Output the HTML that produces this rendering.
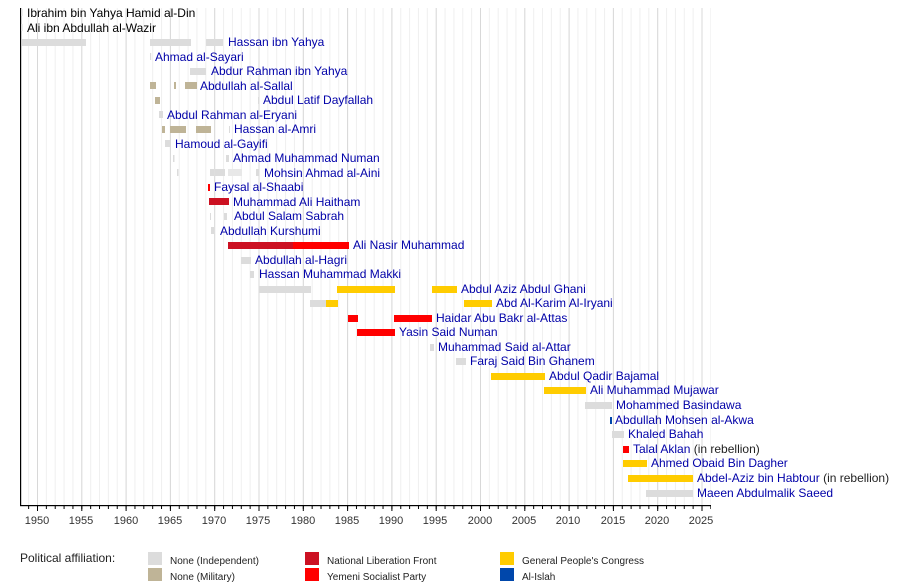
<!DOCTYPE html>
<html><head><meta charset="utf-8"><style>
html,body{margin:0;padding:0;background:#fff;}
svg{display:block;font-family:"Liberation Sans",sans-serif;}
.n{fill:#0000a8;font-size:12px;}
.k{fill:#000;font-size:12px;}
.r{fill:#222;font-size:12px;}
.t{fill:#333;font-size:11px;text-anchor:middle;}
.l{fill:#222;font-size:10px;}
</style></head><body>
<svg width="900" height="585" viewBox="0 0 900 585">
<defs>
<pattern id="g1" x="37" y="0" width="8.86" height="600" patternUnits="userSpaceOnUse"><rect x="0" y="0" width="1" height="600" fill="#efefef"/></pattern>
<pattern id="g5" x="37" y="0" width="44.3" height="600" patternUnits="userSpaceOnUse"><rect x="0" y="0" width="1" height="600" fill="#d8d8d8"/></pattern>
<pattern id="t1" x="37" y="0" width="8.86" height="600" patternUnits="userSpaceOnUse"><rect x="0" y="0" width="1" height="600" fill="#000"/></pattern>
<pattern id="t5" x="37" y="0" width="44.3" height="600" patternUnits="userSpaceOnUse"><rect x="0" y="0" width="1" height="600" fill="#000"/></pattern>
</defs>
<rect x="22" y="8" width="689" height="497" fill="url(#g1)"/>
<rect x="22" y="8" width="689" height="497" fill="url(#g5)"/>
<rect x="22" y="506" width="689" height="3" fill="url(#t1)"/>
<rect x="22" y="506" width="689" height="5" fill="url(#t5)"/>
<rect x="20" y="8" width="1.2" height="498" fill="#000"/>
<rect x="20" y="505" width="691" height="1.2" fill="#000"/>
<g class="t">
<text x="37" y="524">1950</text><text x="81" y="524">1955</text><text x="126" y="524">1960</text><text x="170" y="524">1965</text><text x="214" y="524">1970</text><text x="258" y="524">1975</text><text x="303" y="524">1980</text><text x="347" y="524">1985</text><text x="391" y="524">1990</text><text x="435" y="524">1995</text><text x="480" y="524">2000</text><text x="524" y="524">2005</text><text x="568" y="524">2010</text><text x="613" y="524">2015</text><text x="657" y="524">2020</text><text x="701" y="524">2025</text>
</g>
<!-- bars: colors -->
<g>
<!-- row1 y=13 -->
<rect x="21" y="9" width="1.5" height="7" fill="#dcdcdc"/>
<rect x="21" y="24" width="1.5" height="7" fill="#dcdcdc"/>
<!-- Hassan ibn Yahya y=42 -->
<rect x="22" y="39" width="64" height="7" fill="#dcdcdc"/><rect x="150" y="39" width="41" height="7" fill="#dcdcdc"/><rect x="206" y="39" width="17" height="7" fill="#dcdcdc"/>
<rect x="150" y="53" width="1.2" height="7" fill="#dcdcdc"/>
<rect x="190" y="68" width="16" height="7" fill="#dcdcdc"/>
<rect x="150" y="82" width="6" height="7" fill="#bfb497"/><rect x="174" y="82" width="2" height="7" fill="#bfb497"/><rect x="185" y="82" width="12" height="7" fill="#bfb497"/>
<rect x="155" y="97" width="5" height="7" fill="#bfb497"/><rect x="258" y="97" width="1" height="7" fill="#dcdcdc"/>
<rect x="159" y="111" width="4" height="7" fill="#dcdcdc"/>
<rect x="162" y="126" width="3" height="7" fill="#bfb497"/><rect x="170" y="126" width="16" height="7" fill="#bfb497"/><rect x="196" y="126" width="15" height="7" fill="#bfb497"/><rect x="229" y="126" width="1" height="7" fill="#dcdcdc"/>
<rect x="165" y="140" width="5" height="7" fill="#dcdcdc"/>
<rect x="173" y="155" width="1.5" height="7" fill="#dcdcdc"/><rect x="226" y="155" width="3" height="7" fill="#dcdcdc"/>
<rect x="177" y="169" width="1.5" height="7" fill="#dcdcdc"/><rect x="210" y="169" width="4" height="7" fill="#dcdcdc"/><rect x="215" y="169" width="10" height="7" fill="#dcdcdc"/><rect x="228" y="169" width="14" height="7" fill="#e8e8e8"/><rect x="256" y="169" width="3" height="7" fill="#dcdcdc"/>
<rect x="208" y="184" width="2" height="7" fill="#ff0000"/>
<rect x="209" y="198" width="20" height="7" fill="#cc1122"/>
<rect x="210" y="213" width="1" height="7" fill="#dcdcdc"/><rect x="224" y="213" width="3" height="7" fill="#dcdcdc"/>
<rect x="211" y="227" width="3" height="7" fill="#dcdcdc"/>
<rect x="228" y="242" width="65" height="7" fill="#cc1122"/><rect x="293" y="242" width="56" height="7" fill="#ff0000"/>
<rect x="241" y="257" width="10" height="7" fill="#dcdcdc"/>
<rect x="250" y="271" width="4" height="7" fill="#dcdcdc"/>
<rect x="259" y="286" width="52" height="7" fill="#dcdcdc"/><rect x="337" y="286" width="58" height="7" fill="#ffcc00"/><rect x="432" y="286" width="25" height="7" fill="#ffcc00"/>
<rect x="310" y="300" width="16" height="7" fill="#dcdcdc"/><rect x="326" y="300" width="12" height="7" fill="#ffcc00"/><rect x="464" y="300" width="28" height="7" fill="#ffcc00"/>
<rect x="348" y="315" width="10" height="7" fill="#ff0000"/><rect x="394" y="315" width="38" height="7" fill="#ff0000"/>
<rect x="357" y="329" width="38" height="7" fill="#ff0000"/>
<rect x="430" y="344" width="4" height="7" fill="#dcdcdc"/>
<rect x="456" y="358" width="10" height="7" fill="#dcdcdc"/>
<rect x="491" y="373" width="54" height="7" fill="#ffcc00"/>
<rect x="544" y="387" width="42" height="7" fill="#ffcc00"/>
<rect x="585" y="402" width="27" height="7" fill="#dcdcdc"/>
<rect x="610" y="417" width="2" height="7" fill="#0047ab"/>
<rect x="612" y="431" width="12" height="7" fill="#dcdcdc"/>
<rect x="623" y="446" width="6" height="7" fill="#ff0000"/>
<rect x="623" y="460" width="24" height="7" fill="#ffcc00"/>
<rect x="628" y="475" width="65" height="7" fill="#ffcc00"/>
<rect x="646" y="490" width="47" height="7" fill="#dcdcdc"/>
</g>
<g>
<text class="k" x="27" y="17">Ibrahim bin Yahya Hamid al-Din</text>
<text class="k" x="27" y="32">Ali ibn Abdullah al-Wazir</text>
<text class="n" x="228" y="46">Hassan ibn Yahya</text>
<text class="n" x="155" y="61">Ahmad al-Sayari</text>
<text class="n" x="211" y="75">Abdur Rahman ibn Yahya</text>
<text class="n" x="200" y="90">Abdullah al-Sallal</text>
<text class="n" x="263" y="104">Abdul Latif Dayfallah</text>
<text class="n" x="167" y="119">Abdul Rahman al-Eryani</text>
<text class="n" x="234" y="133">Hassan al-Amri</text>
<text class="n" x="175" y="148">Hamoud al-Gayifi</text>
<text class="n" x="233" y="162">Ahmad Muhammad Numan</text>
<text class="n" x="264" y="177">Mohsin Ahmad al-Aini</text>
<text class="n" x="214" y="191">Faysal al-Shaabi</text>
<text class="n" x="233" y="206">Muhammad Ali Haitham</text>
<text class="n" x="234" y="220">Abdul Salam Sabrah</text>
<text class="n" x="220" y="235">Abdullah Kurshumi</text>
<text class="n" x="353" y="249">Ali Nasir Muhammad</text>
<text class="n" x="255" y="264">Abdullah al-Hagri</text>
<text class="n" x="259" y="278">Hassan Muhammad Makki</text>
<text class="n" x="461" y="293">Abdul Aziz Abdul Ghani</text>
<text class="n" x="496" y="307">Abd Al-Karim Al-Iryani</text>
<text class="n" x="436" y="322">Haidar Abu Bakr al-Attas</text>
<text class="n" x="399" y="336">Yasin Said Numan</text>
<text class="n" x="438" y="351">Muhammad Said al-Attar</text>
<text class="n" x="470" y="365">Faraj Said Bin Ghanem</text>
<text class="n" x="549" y="380">Abdul Qadir Bajamal</text>
<text class="n" x="590" y="394">Ali Muhammad Mujawar</text>
<text class="n" x="616" y="409">Mohammed Basindawa</text>
<text class="n" x="615" y="424">Abdullah Mohsen al-Akwa</text>
<text class="n" x="628" y="438">Khaled Bahah</text>
<text x="633" y="453" font-size="12"><tspan fill="#0000a8">Talal Aklan</tspan><tspan fill="#222"> (in rebellion)</tspan></text>
<text class="n" x="651" y="467">Ahmed Obaid Bin Dagher</text>
<text x="697" y="482" font-size="12"><tspan fill="#0000a8">Abdel-Aziz bin Habtour</tspan><tspan fill="#222"> (in rebellion)</tspan></text>
<text class="n" x="697" y="497">Maeen Abdulmalik Saeed</text>
</g>
<g>
<text x="20" y="562" font-size="12" fill="#222">Political affiliation:</text>
<rect x="148" y="552" width="14" height="13" fill="#dcdcdc"/><text class="l" x="170" y="564">None (Independent)</text>
<rect x="148" y="568" width="14" height="13" fill="#bfb497"/><text class="l" x="170" y="580">None (Military)</text>
<rect x="305" y="552" width="14" height="13" fill="#cc1122"/><text class="l" x="327" y="564">National Liberation Front</text>
<rect x="305" y="568" width="14" height="13" fill="#ff0000"/><text class="l" x="327" y="580">Yemeni Socialist Party</text>
<rect x="500" y="552" width="14" height="13" fill="#ffcc00"/><text class="l" x="522" y="564">General People's Congress</text>
<rect x="500" y="568" width="14" height="13" fill="#0047ab"/><text class="l" x="522" y="580">Al-Islah</text>
</g>
</svg>
</body></html>
